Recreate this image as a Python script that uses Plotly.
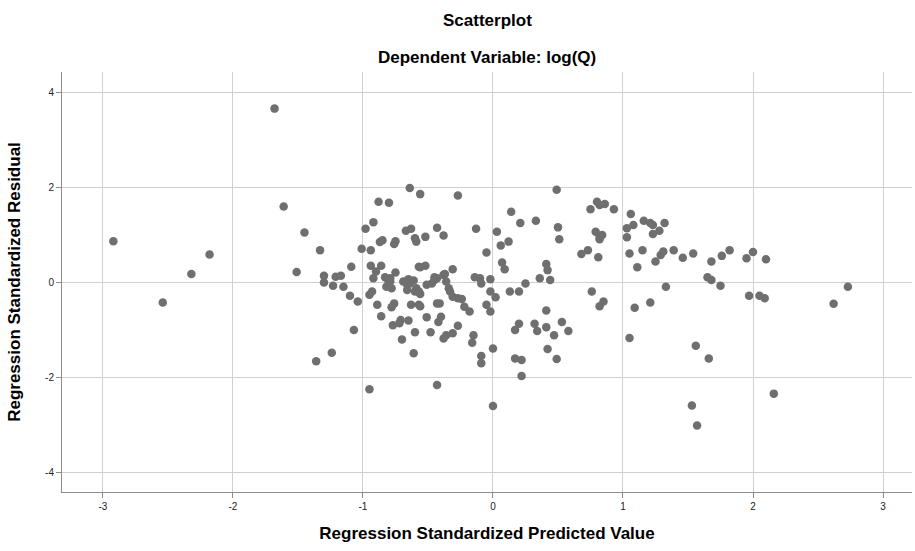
import plotly.graph_objects as go

# Regression standardized predicted values (x) and standardized residuals (y)
predicted = [
    -2.92, -2.54, -2.32, -2.18, -1.68, -1.61, -1.51, -1.45, -1.36, -1.33,
    -1.30, -1.30, -1.24, -1.23, -1.21, -1.17, -1.15, -1.10, -1.09, -1.07,
    -1.04, -1.01, -0.98, -0.95, -0.95, -0.93, -0.94, -0.92, -0.94, -0.90,
    -0.92, -0.89, -0.88, -0.87, -0.86, -0.86, -0.85, -0.83, -0.81, -0.82,
    -0.80, -0.79, -0.79, -0.78, -0.78, -0.77, -0.76, -0.76, -0.75, -0.75,
    -0.72, -0.71, -0.70, -0.69, -0.67, -0.66, -0.66, -0.65, -0.65, -0.64,
    -0.64, -0.63, -0.63, -0.61, -0.61, -0.60, -0.60, -0.60, -0.59, -0.59,
    -0.57, -0.57, -0.57, -0.56, -0.56, -0.56, -0.56, -0.52, -0.52, -0.51,
    -0.51, -0.48, -0.47, -0.45, -0.45, -0.43, -0.43, -0.43, -0.43, -0.42,
    -0.41, -0.40, -0.38, -0.38, -0.38, -0.37, -0.36, -0.36, -0.34, -0.33,
    -0.31, -0.31, -0.31, -0.27, -0.27, -0.27, -0.24, -0.22, -0.18, -0.16,
    -0.15, -0.14, -0.13, -0.10, -0.09, -0.09, -0.09, -0.05, -0.05, -0.02,
    -0.02, -0.02, 0.00, 0.00, 0.02, 0.03, 0.06, 0.07, 0.09, 0.12,
    0.13, 0.14, 0.17, 0.17, 0.20, 0.20, 0.21, 0.22, 0.22, 0.25,
    0.32, 0.33, 0.34, 0.36, 0.41, 0.42, 0.41, 0.41, 0.42, 0.44,
    0.47, 0.49, 0.49, 0.50, 0.51, 0.53, 0.58, 0.68, 0.73, 0.75,
    0.76, 0.79, 0.80, 0.81, 0.82, 0.82, 0.82, 0.82, 0.84, 0.85,
    0.86, 0.93, 1.05, 1.05, 1.03, 1.03, 1.06, 1.08, 1.09, 1.11,
    1.15, 1.16, 1.21, 1.21, 1.23, 1.23, 1.25, 1.28, 1.29, 1.31,
    1.32, 1.33, 1.39, 1.46, 1.53, 1.54, 1.56, 1.57, 1.65, 1.66,
    1.68, 1.68, 1.75, 1.76, 1.82, 1.95, 1.97, 2.00, 2.05, 2.09,
    2.10, 2.16, 2.62, 2.73,
]

residual = [
    0.86, -0.43, 0.17, 0.58, 3.65, 1.59, 0.21, 1.04, -1.67, 0.67,
    0.13, -0.01, -1.49, -0.08, 0.11, 0.13, -0.10, -0.29, 0.32, -1.01,
    -0.41, 0.70, 1.12, -0.27, -2.26, -0.20, 0.67, 1.26, 0.34, 0.22,
    0.08, -0.48, 1.69, 0.84, -0.72, 0.34, 0.88, 0.10, 0.06, -0.10,
    1.67, 0.01, 0.08, -0.13, -0.53, -0.91, 0.80, -0.45, 0.86, 0.20,
    -0.87, -0.80, -1.21, 0.01, 1.08, -0.06, -0.17, 0.06, -0.81, -0.03,
    1.98, 1.12, -0.48, 0.03, -1.50, 0.92, -1.06, -0.20, 0.85, -0.13,
    0.32, -0.48, -0.20, 1.85, 0.31, -0.25, -0.51, 0.95, 0.34, -0.06,
    -0.74, -1.06, -0.03, 0.10, 0.04, 0.08, -0.45, 1.14, -2.17, -0.84,
    -0.45, -0.73, 0.98, 0.15, -1.19, 0.17, 0.01, -1.12, -0.13, -0.20,
    0.27, -0.31, -1.08, 1.82, -0.34, -0.92, -0.36, -0.52, -0.62, -1.28,
    -1.12, 0.10, 1.12, 0.08, -0.03, -1.56, -1.71, 0.62, -0.48, 0.06,
    -0.20, -0.62, -1.40, -2.61, -0.32, 1.06, 0.77, 0.41, 0.27, 0.85,
    -0.20, 1.48, -1.01, -1.61, -0.20, -0.88, 1.24, -1.64, -1.98, -0.03,
    -0.88, 1.29, -1.03, 0.08, 0.38, 0.25, -0.95, -0.60, -1.41, 0.04,
    -1.12, 1.94, -1.62, 1.15, 0.90, -0.84, -1.03, 0.59, 0.67, 1.53,
    -0.20, 1.06, 1.69, 0.52, 1.62, 0.95, 0.90, -0.51, 0.99, -0.41,
    1.64, 1.53, -1.18, 0.60, 1.13, 0.94, 1.43, 1.20, -0.54, 0.31,
    0.67, 1.29, 1.24, -0.43, 1.20, 1.01, 0.43, 1.08, 0.57, 0.64,
    1.24, -0.10, 0.67, 0.51, -2.60, 0.60, -1.34, -3.02, 0.10, -1.61,
    0.43, 0.04, -0.08, 0.55, 0.67, 0.50, -0.29, 0.63, -0.29, -0.34,
    0.48, -2.35, -0.46, -0.10,
]

x_ticks = [-3, -2, -1, 0, 1, 2, 3]
y_ticks = [-4, -2, 0, 2, 4]

FONT = "Liberation Sans, Arial, sans-serif"
GRID = "#d0d0d0"
AXIS = "#8c8c8c"

MARGIN_T, MARGIN_B = 72, 59
PLOT_H = 551 - MARGIN_T - MARGIN_B


def title_line(text, pixel_row, size):
    """Centered bold title line positioned at a pixel row above the plot."""
    return dict(
        text=f"<b>{text}</b>", x=0.5, xref="paper", yref="paper",
        y=1 + (MARGIN_T - pixel_row) / PLOT_H, yanchor="middle",
        showarrow=False, font=dict(size=size, family=FONT, color="#000000"),
    )


fig = go.Figure(
    go.Scatter(
        x=predicted,
        y=residual,
        mode="markers",
        marker=dict(color="#6f6f6f", size=8.5, line=dict(width=0)),
        hoverinfo="x+y",
    )
)

fig.update_layout(
    width=915,
    height=551,
    margin=dict(l=62, r=3, t=MARGIN_T, b=MARGIN_B),
    paper_bgcolor="white",
    plot_bgcolor="white",
    showlegend=False,
    font=dict(family=FONT, color="#000000"),
    annotations=[
        title_line("Scatterplot", 20, 17),
        title_line("Dependent Variable: log(Q)", 58, 17),
    ],
)

fig.update_xaxes(
    range=[-3.315, 3.223],
    tickvals=x_ticks,
    ticktext=[str(v) for v in x_ticks],
    showgrid=True, gridcolor=GRID, gridwidth=1,
    zeroline=False,
    showline=True, linecolor=AXIS, linewidth=1,
    ticks="outside", ticklen=5, tickcolor=AXIS,
    tickfont=dict(size=10, color="#222222"),
    title=dict(text="<b>Regression Standardized Predicted Value</b>",
               font=dict(size=17), standoff=16),
)
fig.update_yaxes(
    range=[-4.421, 4.421],
    tickvals=y_ticks,
    ticktext=[str(v) for v in y_ticks],
    showgrid=True, gridcolor=GRID, gridwidth=1,
    zeroline=False,
    showline=True, linecolor=AXIS, linewidth=1,
    ticks="outside", ticklen=5, tickcolor=AXIS,
    tickfont=dict(size=10, color="#222222"),
    title=dict(text="<b>Regression Standardized Residual</b>",
               font=dict(size=17), standoff=20),
)

fig.write_html("out.html")
